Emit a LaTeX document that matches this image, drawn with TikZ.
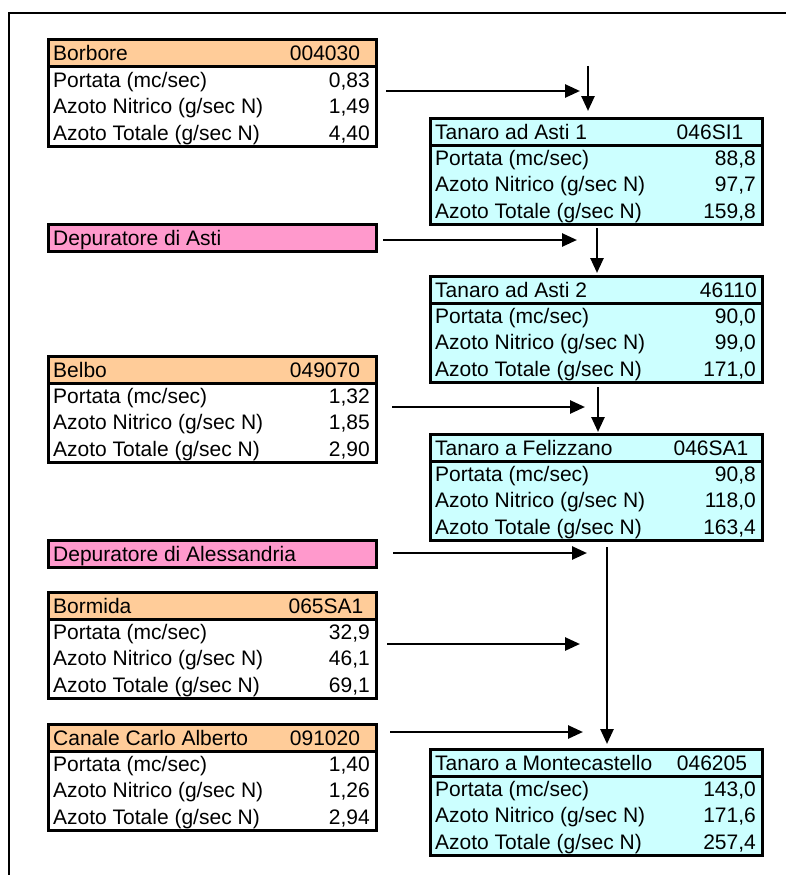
\documentclass[tikz,border=0pt]{standalone}
\usepackage{fontspec}
\setmainfont{Liberation Sans}
\usetikzlibrary{arrows.meta}
\definecolor{hdrorange}{HTML}{FFCC99}
\definecolor{deppink}{HTML}{FF99CC}
\definecolor{tancyan}{HTML}{CCFFFF}
\tikzset{
  frameline/.style={line width=2.5pt},
  boxline/.style={draw=black, line width=3pt, inner sep=0pt, outer sep=0pt, anchor=north west},
  txt/.style={inner sep=0pt, font=\fontsize{21}{25}\selectfont},
  lbl/.style={txt, anchor=base west},
  val/.style={txt, anchor=base east},
  codetxt/.style={txt, anchor=base},
  coderight/.style={txt, anchor=base east},
  flow/.style={line width=2.6pt, -{Triangle[length=15pt,width=13pt]}},
}
\newcommand\threevals[4]{%
  \node[lbl] (#1l1) at (5,47.3) {Portata (mc/sec)};
  \node[lbl] (#1l2) at (5,73.7) {Azoto Nitrico (g/sec N)};
  \node[lbl] (#1l3) at (5,100) {Azoto Totale (g/sec N)};
  \node[val] (#1v1) at (\bw-6,47.3) {#2};
  \node[val] (#1v2) at (\bw-6,73.7) {#3};
  \node[val] (#1v3) at (\bw-6,100) {#4};
}
% #1 name, #2 x, #3 y, #4 width, #5 header fill, #6 body fill, #7 title, #8 values
\newcommand\station[8]{%
  \def\bw{#4}%
  \begin{scope}[shift={(#2,#3)}]
    \node[boxline, fill=#5, minimum width=#4pt, minimum height=27pt] (#1) at (0,0) {};
    \node[boxline, fill=#6, minimum width=#4pt, minimum height=79pt] (#1b) at (0,27) {};
    \node[lbl] (#1t) at (5,21) {#7};
    \threevals{#1}#8
  \end{scope}}
\begin{document}
\begin{tikzpicture}[x=1pt,y=-1pt]
\useasboundingbox (0,0) rectangle (786,875);
\coordinate (fbl) at (9,876);
\coordinate (ftl) at (9,13);
\coordinate (ftr) at (787,13);
\draw[frameline] (fbl) -- (ftl) -- (ftr);

% left column
\station{bor}{48}{40}{328}{hdrorange}{white}{Borbore}{{0,83}{1,49}{4,40}}
\node[codetxt] (borc) at (325,61) {004030};

\node[boxline, fill=deppink, minimum width=328pt, minimum height=27pt] (depasti) at (48,224) {};
\node[lbl] (depastit) at (53,245) {Depuratore di Asti};

\station{bel}{48}{356}{328}{hdrorange}{white}{Belbo}{{1,32}{1,85}{2,90}}
\node[codetxt] (belc) at (325,377) {049070};

\node[boxline, fill=deppink, minimum width=328pt, minimum height=27pt] (depal) at (48,540) {};
\node[lbl] (depalt) at (53,561) {Depuratore di Alessandria};

\station{bom}{48}{592}{328}{hdrorange}{white}{Bormida}{{32,9}{46,1}{69,1}}
\node[codetxt] (bomc) at (326,613) {065SA1};

\station{can}{48}{724}{328}{hdrorange}{white}{Canale Carlo Alberto}{{1,40}{1,26}{2,94}}
\node[codetxt] (canc) at (325,745) {091020};

% right column
\station{ta}{430}{118}{332}{tancyan}{tancyan}{Tanaro ad Asti 1}{{88,8}{97,7}{159,8}}
\node[codetxt] (tac) at (710,139) {046SI1};

\station{tb}{430}{276}{332}{tancyan}{tancyan}{Tanaro ad Asti 2}{{90,0}{99,0}{171,0}}
\node[coderight] (tbc) at (757,297) {46110};

\station{tf}{430}{434}{332}{tancyan}{tancyan}{Tanaro a Felizzano}{{90,8}{118,0}{163,4}}
\node[codetxt] (tfc) at (711,455) {046SA1};

\station{tm}{430}{749}{332}{tancyan}{tancyan}{Tanaro a Montecastello}{{143,0}{171,6}{257,4}}
\node[codetxt] (tmc) at (712,770) {046205};

% arrows
\coordinate (h1s) at (386,91);  \coordinate (h1e) at (580,91);
\coordinate (v1s) at (588,66);  \coordinate (v1e) at (588,111);
\coordinate (h2s) at (383,240); \coordinate (h2e) at (577,240);
\coordinate (v2s) at (597,228); \coordinate (v2e) at (597,273);
\coordinate (h3s) at (392,407); \coordinate (h3e) at (585,407);
\coordinate (v3s) at (598,387); \coordinate (v3e) at (598,432);
\coordinate (h4s) at (393,553); \coordinate (h4e) at (587,553);
\coordinate (v4s) at (607,547); \coordinate (v4e) at (607,744);
\coordinate (h5s) at (387,644); \coordinate (h5e) at (580,644);
\coordinate (h6s) at (390,732); \coordinate (h6e) at (583,732);
\draw[flow] (h1s) -- (h1e);
\draw[flow] (v1s) -- (v1e);
\draw[flow] (h2s) -- (h2e);
\draw[flow] (v2s) -- (v2e);
\draw[flow] (h3s) -- (h3e);
\draw[flow] (v3s) -- (v3e);
\draw[flow] (h4s) -- (h4e);
\draw[flow] (v4s) -- (v4e);
\draw[flow] (h5s) -- (h5e);
\draw[flow] (h6s) -- (h6e);
\end{tikzpicture}
\end{document}
